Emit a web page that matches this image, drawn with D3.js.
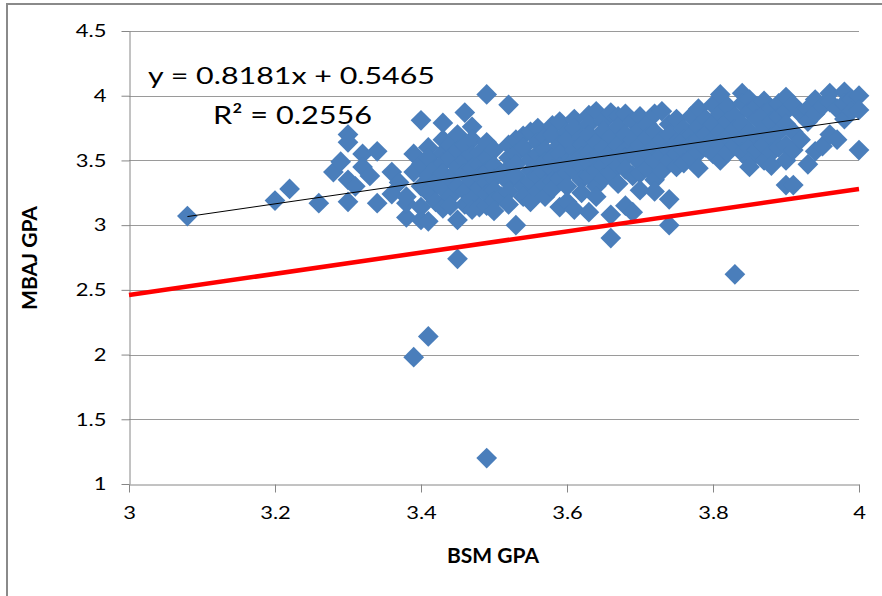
<!DOCTYPE html>
<html>
<head>
<meta charset="utf-8">
<script src="https://cdn.jsdelivr.net/npm/d3@7"></script>
<style>
  html, body { margin: 0; padding: 0; background: #fff; }
  svg { display: block; }
  text { font-family: Lato, "Open Sans", sans-serif; fill: #000; }
</style>
</head>
<body>
<svg id="chart" width="882" height="596"></svg>
<script>
// BSM GPA values; each entry of mbajGpa lists the MBAJ GPAs of the students with that BSM GPA
const bsmGpa = [
  3.08, 3.20, 3.22, 3.26, 3.28, 3.29, 3.30, 3.31, 3.32, 3.33, 3.34, 3.36, 3.37, 3.38, 3.39,
  3.40, 3.41, 3.42, 3.43, 3.44, 3.45, 3.46, 3.47, 3.48, 3.49,
  3.50, 3.51, 3.52, 3.53, 3.54, 3.55, 3.56, 3.57, 3.58, 3.59,
  3.60, 3.61, 3.62, 3.63, 3.64, 3.65, 3.66, 3.67, 3.68, 3.69,
  3.70, 3.71, 3.72, 3.73, 3.74, 3.75, 3.76, 3.77, 3.78, 3.79,
  3.80, 3.81, 3.82, 3.83, 3.84, 3.85, 3.86, 3.87, 3.88, 3.89,
  3.90, 3.91, 3.92, 3.93, 3.94, 3.95, 3.96, 3.97, 3.98, 3.99, 4.00
];
const mbajGpa = [
  [3.07], [3.19], [3.28], [3.17], [3.41], [3.49], [3.70, 3.64, 3.35, 3.18], [3.30],
  [3.55, 3.45], [3.38], [3.57, 3.17], [3.24, 3.41], [3.33], [3.06, 3.17, 3.22], [3.41, 3.55, 1.98],
  [3.81, 3.04, 3.47, 3.30, 3.14],
  [3.60, 3.52, 3.38, 3.25, 3.03, 2.14],
  [3.44, 3.33, 3.18],
  [3.79, 3.66, 3.56, 3.48, 3.40, 3.28, 3.13],
  [3.62, 3.52, 3.36, 3.22, 3.15],
  [3.70, 3.58, 3.45, 3.30, 3.04, 2.74],
  [3.87, 3.62, 3.50, 3.40, 3.26, 3.16],
  [3.76, 3.66, 3.54, 3.44, 3.34, 3.20, 3.12],
  [3.56, 3.47, 3.38, 3.29, 3.14],
  [4.01, 3.64, 3.52, 3.42, 3.33, 3.24, 3.15, 1.20],
  [3.58, 3.46, 3.36, 3.27, 3.19, 3.11],
  [3.40, 3.22],
  [3.93, 3.62, 3.52, 3.44, 3.33, 3.26, 3.16],
  [3.66, 3.55, 3.47, 3.38, 3.00],
  [3.69, 3.60, 3.30, 3.22],
  [3.72, 3.51, 3.42, 3.34, 3.18],
  [3.75, 3.64, 3.55, 3.46, 3.37, 3.26],
  [3.68, 3.58, 3.49, 3.40, 3.31, 3.22],
  [3.77, 3.70, 3.52, 3.43, 3.34, 3.28],
  [3.80, 3.62, 3.55, 3.45, 3.36, 3.14],
  [3.72, 3.66, 3.48, 3.40, 3.30, 3.18],
  [3.82, 3.75, 3.58, 3.50, 3.42, 3.12],
  [3.68, 3.62, 3.53, 3.45, 3.35, 3.25],
  [3.85, 3.78, 3.70, 3.56, 3.48, 3.38, 3.10],
  [3.88, 3.64, 3.52, 3.42, 3.30, 3.22],
  [3.80, 3.73, 3.60, 3.46, 3.36],
  [3.87, 3.68, 3.56, 3.50, 3.40, 3.08, 2.90],
  [3.84, 3.76, 3.62, 3.46, 3.32],
  [3.86, 3.70, 3.58, 3.52, 3.43, 3.15],
  [3.80, 3.66, 3.55, 3.38, 3.10],
  [3.84, 3.74, 3.62, 3.48, 3.40, 3.27],
  [3.78, 3.68, 3.56, 3.44],
  [3.86, 3.72, 3.60, 3.50, 3.35, 3.26],
  [3.88, 3.66, 3.54, 3.42],
  [3.78, 3.70, 3.58, 3.50, 3.20, 3.00],
  [3.82, 3.64, 3.55, 3.45],
  [3.74, 3.66, 3.58, 3.48],
  [3.84, 3.70, 3.62, 3.52],
  [3.90, 3.76, 3.66, 3.56, 3.44],
  [3.82, 3.70, 3.60],
  [3.93, 3.78, 3.66, 3.55],
  [4.01, 3.86, 3.72, 3.62, 3.50],
  [3.92, 3.80, 3.68, 3.56],
  [3.84, 3.74, 3.62, 2.62],
  [4.02, 3.94, 3.78, 3.66, 3.56],
  [3.97, 3.88, 3.72, 3.60, 3.50, 3.45],
  [3.92, 3.82, 3.68, 3.58],
  [3.96, 3.86, 3.74, 3.62, 3.50],
  [3.90, 3.80, 3.68, 3.56, 3.46],
  [3.94, 3.84, 3.72, 3.60],
  [3.99, 3.88, 3.78, 3.62, 3.50, 3.31],
  [3.93, 3.72, 3.58, 3.31],
  [3.86, 3.66],
  [3.90, 3.80, 3.47],
  [3.97, 3.86, 3.57],
  [3.92, 3.61],
  [4.02, 3.95, 3.70],
  [3.90, 3.66],
  [4.03, 3.94, 3.82],
  [3.97, 3.88],
  [4.00, 3.89, 3.58]
];

// Linear trend fitted to the scatter
const trendSlope = 0.8181;
const trendIntercept = 0.5465;
const trendR2 = 0.2556;

// Reference (cut-off) line end points: [BSM GPA, MBAJ GPA]
const cutoffLine = [[3, 2.46], [4, 3.28]];

const xTicks = [3, 3.2, 3.4, 3.6, 3.8, 4];
const yTicks = [1, 1.5, 2, 2.5, 3, 3.5, 4, 4.5];

const xTitle = "BSM GPA";
const yTitle = "MBAJ GPA";

// ---- drawing ----
const points = [];
bsmGpa.forEach((b, i) => mbajGpa[i].forEach(m => points.push({ b, m })));

const svg = d3.select("#chart");
const axisColor = "#868686";
const labelStretch = 1.22;

const x = d3.scaleLinear().domain([3, 4]).range([129, 859]);
const y = d3.scaleLinear().domain([1, 4.5]).range([484, 31]);

// outer chart frame
svg.append("rect")
  .attr("x", 7).attr("y", 4)
  .attr("width", 900).attr("height", 620)
  .attr("fill", "none")
  .attr("stroke", "#8a8a8a")
  .attr("stroke-width", 2);

// horizontal gridlines
svg.append("g")
  .selectAll("line")
  .data(yTicks.filter(v => v > 1))
  .join("line")
  .attr("x1", x(3)).attr("x2", x(4))
  .attr("y1", d => Math.round(y(d)) + 0.5)
  .attr("y2", d => Math.round(y(d)) + 0.5)
  .attr("stroke", "#9a9a9a")
  .attr("stroke-width", 1);

// x axis
const gx = svg.append("g")
  .attr("transform", `translate(0,${Math.round(y(1)) + 0.5})`)
  .call(d3.axisBottom(x).tickValues(xTicks).tickSize(8).tickSizeOuter(0).tickPadding(14)
        .tickFormat(d3.format("")));
gx.select(".domain").attr("stroke", axisColor);
gx.selectAll(".tick line").attr("stroke", axisColor);
gx.selectAll(".tick text")
  .attr("font-family", "Lato, sans-serif")
  .attr("font-size", 18)
  .attr("fill", "#000")
  .attr("transform", `scale(${labelStretch},1)`);

// y axis
const gy = svg.append("g")
  .attr("transform", `translate(${Math.round(x(3)) + 0.5},0)`)
  .call(d3.axisLeft(y).tickValues(yTicks).tickSize(8).tickSizeOuter(0)
        .tickFormat(d3.format("")));
gy.select(".domain").attr("stroke", axisColor);
gy.selectAll(".tick line").attr("stroke", axisColor);
gy.selectAll(".tick text")
  .attr("font-family", "Lato, sans-serif")
  .attr("font-size", 18)
  .attr("fill", "#000")
  .attr("x", -23 / labelStretch)
  .attr("transform", `scale(${labelStretch},1)`);

// data points (diamonds)
const diamond = d3.symbol().type(d3.symbolSquare).size(215);
svg.append("g")
  .selectAll("path")
  .data(points)
  .join("path")
  .attr("d", diamond)
  .attr("transform", d => `translate(${x(d.b)},${y(d.m)}) rotate(45)`)
  .attr("fill", "#4a7ebb");

// cut-off line (red)
const line = d3.line().x(d => x(d[0])).y(d => y(d[1]));
svg.append("path")
  .datum(cutoffLine)
  .attr("d", line)
  .attr("fill", "none")
  .attr("stroke", "#ff0000")
  .attr("stroke-width", 4.5);

// linear trend line over the observed BSM range
const [bMin, bMax] = d3.extent(bsmGpa);
svg.append("path")
  .datum([bMin, bMax].map(b => [b, trendSlope * b + trendIntercept]))
  .attr("d", line)
  .attr("fill", "none")
  .attr("stroke", "#000")
  .attr("stroke-width", 1);

// trend equation and R²
svg.append("text")
  .attr("x", 148).attr("y", 84)
  .attr("font-size", 24)
  .attr("textLength", 287)
  .attr("lengthAdjust", "spacingAndGlyphs")
  .text(`y = ${trendSlope.toFixed(4)}x + ${trendIntercept.toFixed(4)}`);
svg.append("text")
  .attr("x", 213).attr("y", 124)
  .attr("font-size", 25)
  .attr("textLength", 159)
  .attr("lengthAdjust", "spacingAndGlyphs")
  .text(`R\u00b2 = ${trendR2.toFixed(4)}`);

// axis titles
svg.append("text")
  .attr("x", 493).attr("y", 563)
  .attr("text-anchor", "middle")
  .attr("font-size", 21)
  .attr("font-weight", "bold")
  .text(xTitle);
svg.append("text")
  .attr("transform", "translate(37,258) rotate(-90)")
  .attr("text-anchor", "middle")
  .attr("font-size", 21)
  .attr("font-weight", "bold")
  .text(yTitle);
</script>
</body>
</html>
